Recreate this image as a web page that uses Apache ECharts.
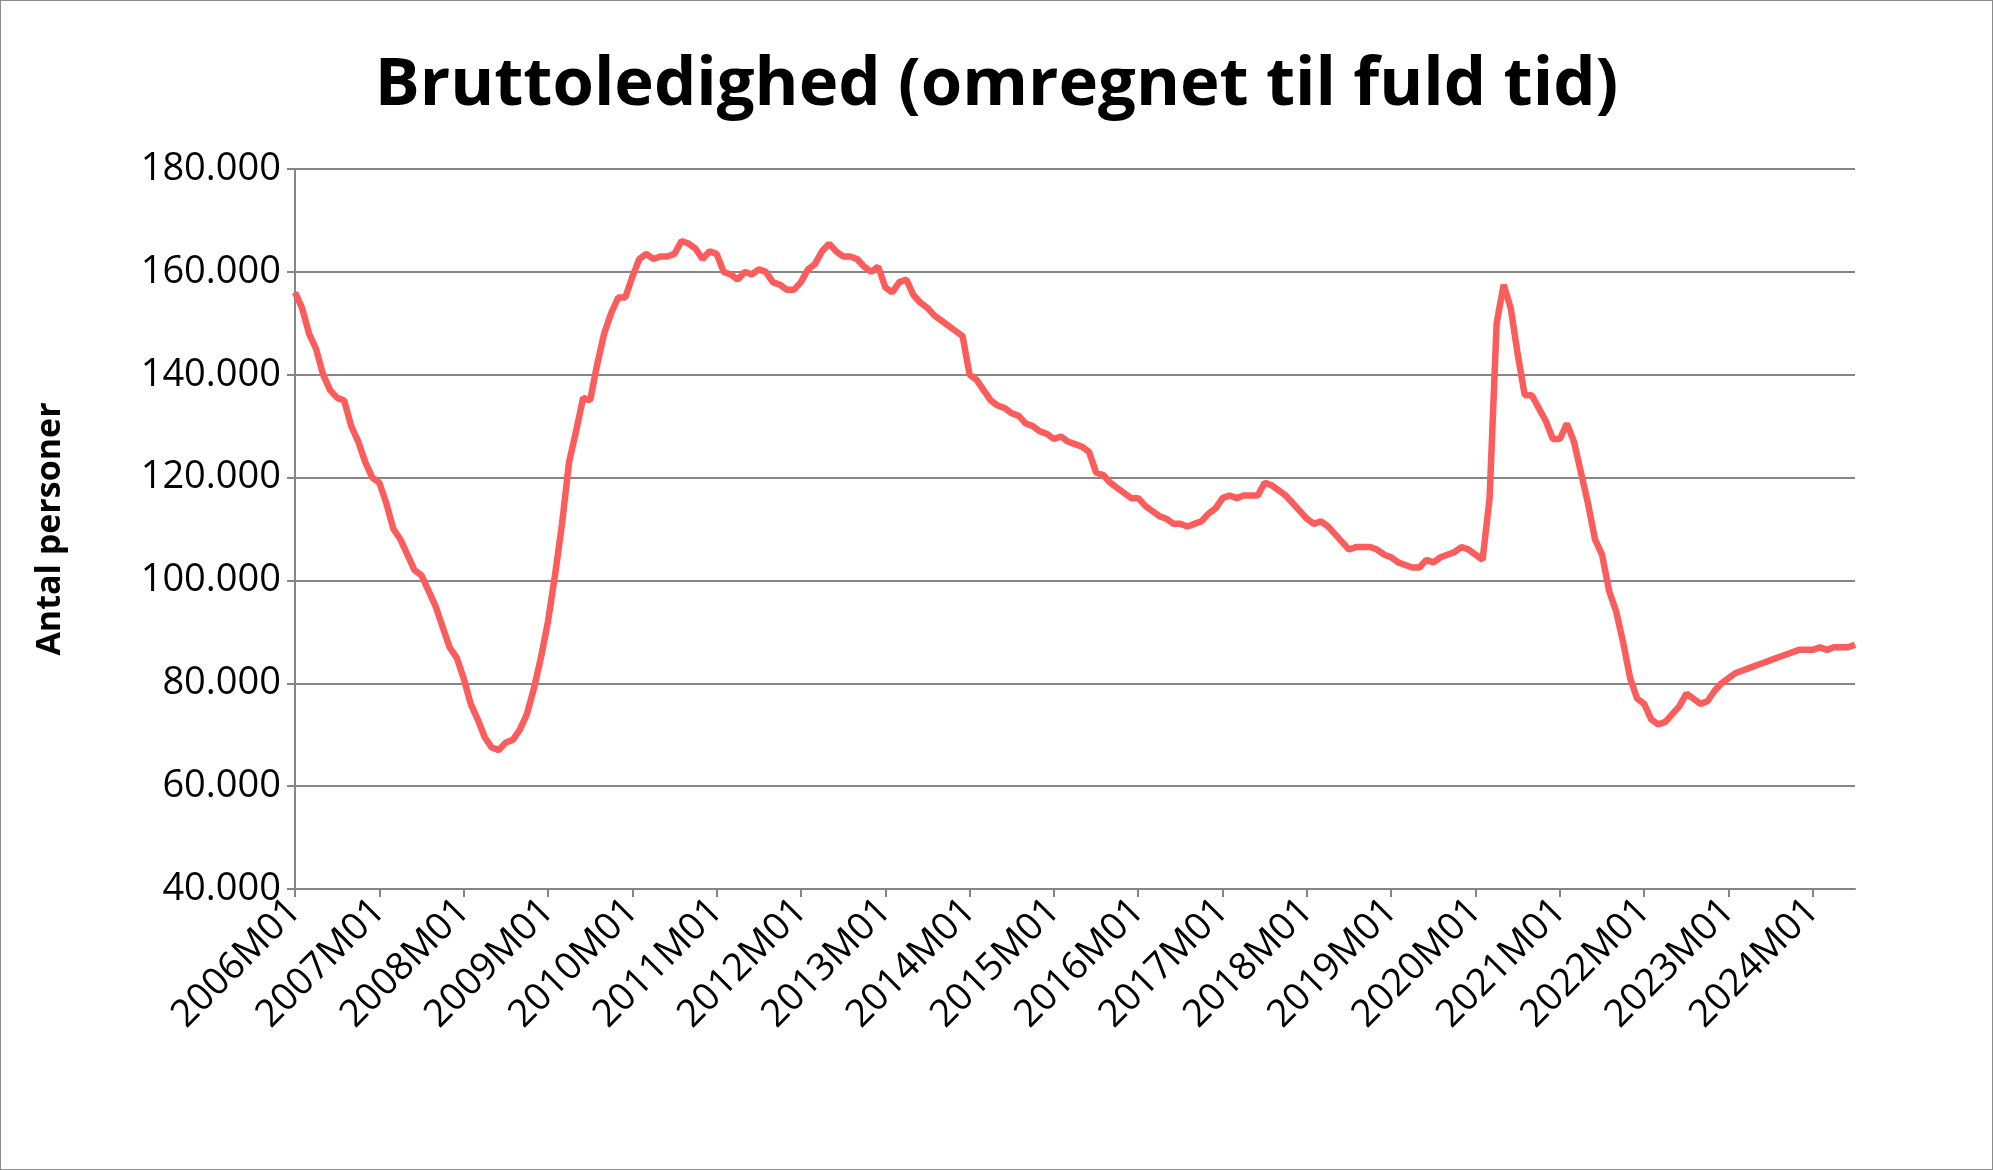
<!DOCTYPE html>
<html>
<head>
<meta charset="utf-8">
<script src="https://cdn.jsdelivr.net/npm/echarts@6/dist/echarts.min.js"></script>
<style>
  html, body { margin: 0; padding: 0; background: #fff; }
  #chart { width: 1991px; height: 1168px; border: 1px solid #8c8c8c; }
</style>
</head>
<body>
<div id="chart"></div>
<script>
// Bruttoledighed, tusinde personer, maanedlig 2006M01 - 2024M07
var years = [2006, 2007, 2008, 2009, 2010, 2011, 2012, 2013, 2014, 2015, 2016, 2017, 2018, 2019, 2020, 2021, 2022, 2023, 2024];
var v2006 = [156, 153, 148, 145, 140, 137, 135.5, 135, 130, 127, 123, 120];
var v2007 = [119, 115, 110, 108, 105, 102, 101, 98, 95, 91, 87, 85];
var v2008 = [81, 76, 73, 69.5, 67.5, 67, 68.5, 69, 71, 74, 79, 85];
var v2009 = [92, 101, 111, 123, 129, 135.5, 135, 142, 148, 152, 155, 155];
var v2010 = [159, 162.5, 163.5, 162.5, 163, 163, 163.5, 166, 165.5, 164.5, 162.5, 164];
var v2011 = [163.5, 160, 159.5, 158.5, 160, 159.5, 160.5, 160, 158, 157.5, 156.5, 156.5];
var v2012 = [158, 160.5, 161.5, 164, 165.5, 164, 163, 163, 162.5, 161, 160, 161];
var v2013 = [157, 156, 158, 158.5, 155.5, 154, 153, 151.5, 150.5, 149.5, 148.5, 147.5];
var v2014 = [140, 139, 137, 135, 134, 133.5, 132.5, 132, 130.5, 130, 129, 128.5];
var v2015 = [127.5, 128, 127, 126.5, 126, 125, 121, 120.5, 119, 118, 117, 116];
var v2016 = [116, 114.5, 113.5, 112.5, 112, 111, 111, 110.5, 111, 111.5, 113, 114];
var v2017 = [116, 116.5, 116, 116.5, 116.5, 116.5, 119, 118.5, 117.5, 116.5, 115, 113.5];
var v2018 = [112, 111, 111.5, 110.5, 109, 107.5, 106, 106.5, 106.5, 106.5, 106, 105];
var v2019 = [104.5, 103.5, 103, 102.5, 102.5, 104, 103.5, 104.5, 105, 105.5, 106.5, 106];
var v2020 = [105, 104, 116, 150, 157.5, 153, 144, 136, 136, 133.5, 131, 127.5];
var v2021 = [127.5, 130.5, 127, 121, 115, 108, 105, 98, 94, 88, 81, 77];
var v2022 = [76, 73, 72, 72.5, 74, 75.5, 78, 77, 76, 76.5, 78.5, 80];
var v2023 = [81, 82, 82.5, 83, 83.5, 84, 84.5, 85, 85.5, 86, 86.5, 86.5];
var v2024 = [86.5, 87, 86.5, 87, 87, 87, 87.5];

var yearValues = [v2006, v2007, v2008, v2009, v2010, v2011, v2012, v2013, v2014, v2015,
  v2016, v2017, v2018, v2019, v2020, v2021, v2022, v2023, v2024];

var months = [];
var values = [];
years.forEach(function (y, i) {
  yearValues[i].forEach(function (v, m) {
    months.push(y + 'M' + (m < 9 ? '0' : '') + (m + 1));
    values.push(v * 1000);
  });
});

var chart = echarts.init(document.getElementById('chart'));
chart.setOption({
  animation: false,
  title: {
    text: 'Bruttoledighed (omregnet til fuld tid)',
    left: 'center',
    top: 46,
    textStyle: { fontFamily: 'Open Sans', fontWeight: 'bold', fontSize: 67, color: '#000' }
  },
  grid: { left: 294, right: 137, top: 168, bottom: 280 },
  xAxis: {
    type: 'category',
    data: months,
    boundaryGap: false,
    axisLine: { lineStyle: { color: '#868686', width: 2 } },
    axisTick: { show: true, interval: 11, length: 8, lineStyle: { color: '#868686', width: 2 } },
    axisLabel: {
      interval: 11,
      rotate: 45,
      fontFamily: 'Open Sans',
      fontSize: 38,
      color: '#000',
      margin: 16
    }
  },
  yAxis: {
    type: 'value',
    min: 40000,
    max: 180000,
    interval: 20000,
    name: 'Antal personer',
    nameLocation: 'middle',
    nameGap: 228,
    nameTextStyle: { fontFamily: 'Open Sans', fontWeight: 'bold', fontSize: 34, color: '#000' },
    axisLine: { show: true, lineStyle: { color: '#868686', width: 2 } },
    axisTick: { show: true, length: 8, lineStyle: { color: '#868686', width: 2 } },
    splitLine: { lineStyle: { color: '#868686', width: 2 } },
    axisLabel: {
      fontFamily: 'Open Sans',
      fontSize: 38,
      color: '#000',
      margin: 14,
      formatter: function (v) {
        return (v / 1000).toFixed(0) + '.000';
      }
    }
  },
  series: [{
    type: 'line',
    data: values,
    symbol: 'none',
    lineStyle: { color: '#fb5c5c', width: 6.5 }
  }]
});
</script>
</body>
</html>
